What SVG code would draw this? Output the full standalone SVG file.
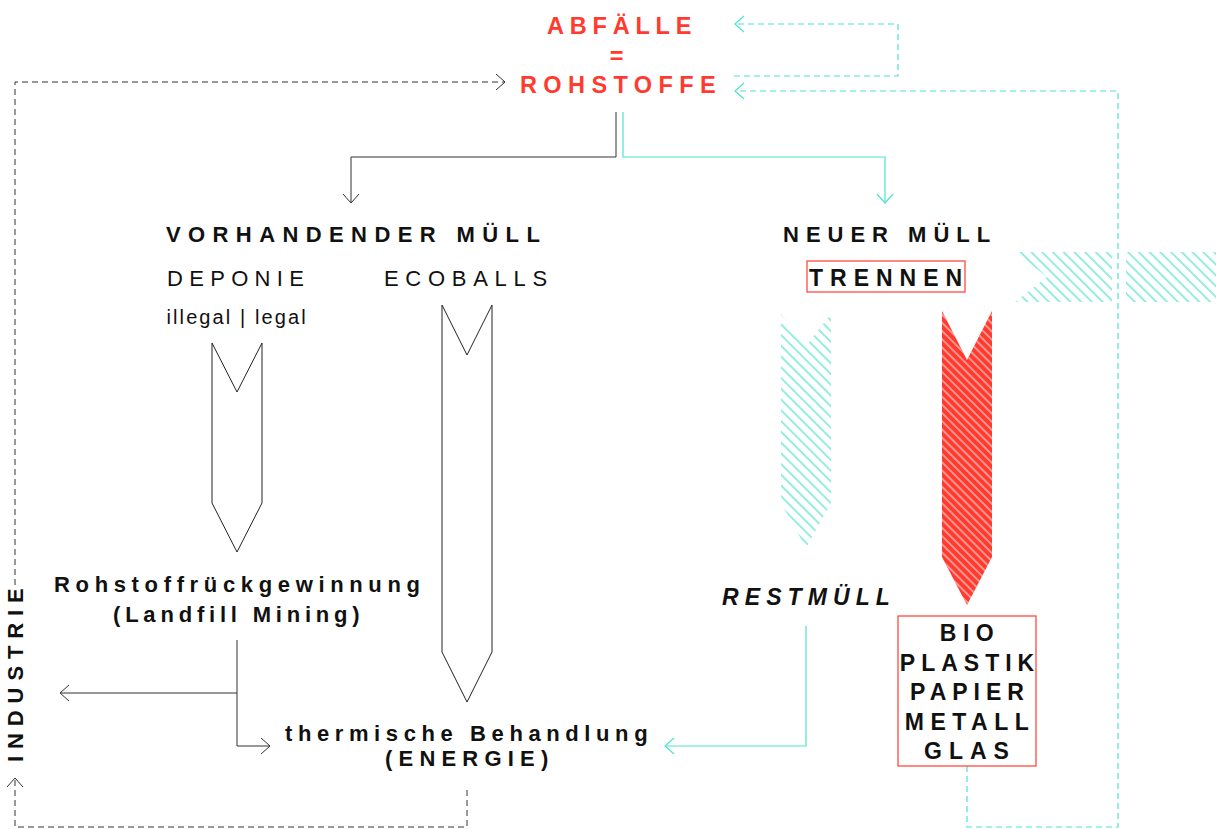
<svg xmlns="http://www.w3.org/2000/svg" width="1216" height="829" viewBox="0 0 1216 829">
<style>
text{font-family:"Liberation Sans",Arial,Helvetica,sans-serif;}
.b{font-weight:bold;font-size:22px;fill:#111;}
.r{font-size:22px;fill:#111;}
.red{fill:#ff3b30;font-weight:bold;font-size:23.5px;}
.ln{fill:none;stroke:#333;stroke-width:1;}
.lc{fill:none;stroke:#4fe3cc;stroke-width:1.2;}
.dash{stroke-dasharray:6 4;}
.box{fill:none;stroke:#ff4a3d;stroke-width:1.3;}
.out{fill:#fff;stroke:#222;stroke-width:1;}
.hc{fill:url(#hatchC);stroke:none;}
</style>
<defs>
<marker id="ak" markerUnits="userSpaceOnUse" markerWidth="20" markerHeight="20" viewBox="-10 -10 20 20" refX="0" refY="0" orient="auto" overflow="visible"><path d="M-9,-8 L0,0 L-9,8" fill="none" stroke="#333" stroke-width="1"/></marker>
<marker id="ac" markerUnits="userSpaceOnUse" markerWidth="20" markerHeight="20" viewBox="-10 -10 20 20" refX="0" refY="0" orient="auto" overflow="visible"><path d="M-9,-8 L0,0 L-9,8" fill="none" stroke="#4fe3cc" stroke-width="1.2"/></marker>
<pattern id="hatchC" patternUnits="userSpaceOnUse" width="7.6" height="7.6" patternTransform="rotate(-45)"><line x1="3.8" y1="0" x2="3.8" y2="7.6" stroke="#3fe0c8" stroke-width="1.1"/></pattern>
<pattern id="hatchW" patternUnits="userSpaceOnUse" width="5.8" height="5.8" patternTransform="rotate(-45)"><line x1="2.9" y1="0" x2="2.9" y2="5.8" stroke="#fff" stroke-width="0.9"/></pattern>
</defs>

<g id="connectors">
  <path class="ln" d="M616,112 V157 H351 V203" marker-end="url(#ak)"/>
  <path class="lc" d="M623,112 V157 H885 V203" marker-end="url(#ac)"/>
  <path class="ln" d="M237,640 V746 H270" marker-end="url(#ak)"/>
  <path class="ln" d="M237,693 H60" marker-end="url(#ak)"/>
  <path class="lc" d="M806,626 V746 H665" marker-end="url(#ac)"/>
  <path class="ln dash" d="M15,585 V82 H505" marker-end="url(#ak)"/>
  <path class="ln dash" d="M467,790 V827 H15 V778" marker-end="url(#ak)"/>
  <path class="lc dash" d="M734,76 H898 V24 H735" marker-end="url(#ac)"/>
  <path class="lc dash" d="M967,766 V827 H1118 V91 H735" marker-end="url(#ac)"/>
</g>

<g id="title">
  <text class="red" x="547" y="34" letter-spacing="5.8">ABFÄLLE</text>
  <text class="red" x="616.5" y="63.5" text-anchor="middle">=</text>
  <text class="red" x="520" y="92.5" letter-spacing="6.4">ROHSTOFFE</text>
</g>

<g id="vorhandener-muell">
  <text class="b" x="166" y="241.5" letter-spacing="7.4">VORHANDENDER MÜLL</text>
</g>

<g id="deponie">
  <text class="r" x="167" y="286" letter-spacing="6.3">DEPONIE</text>
  <text class="r" x="166.5" y="324" font-size="20" style="font-size:20px" letter-spacing="2.1">illegal | legal</text>
  <polygon class="out" points="212,343 237,392 262,343 262,503 237,552 212,503"/>
</g>

<g id="ecoballs">
  <text class="r" x="384" y="286" letter-spacing="6.7">ECOBALLS</text>
  <polygon class="out" points="442,305 467,355 492,305 492,652 467,702 442,652"/>
</g>

<g id="rohstoffrueckgewinnung">
  <text class="b" x="54" y="591.5" letter-spacing="5.65">Rohstoffrückgewinnung</text>
  <text class="b" x="113" y="621.5" letter-spacing="4.8">(Landfill Mining)</text>
</g>

<g id="thermische-behandlung">
  <text class="b" x="285" y="740.5" letter-spacing="5.6">thermische Behandlung</text>
  <text class="b" x="385" y="766" letter-spacing="6.2">(ENERGIE)</text>
</g>

<g id="industrie">
  <text class="b" transform="translate(23.3,762) rotate(-90)" x="0" y="0" letter-spacing="6.9">INDUSTRIE</text>
</g>

<g id="neuer-muell">
  <text class="b" x="783" y="241.5" letter-spacing="7">NEUER MÜLL</text>
</g>

<g id="trennen">
  <rect class="box" x="807" y="261" width="158" height="31"/>
  <text class="b" x="809" y="286" style="font-size:23px" letter-spacing="7">TRENNEN</text>
</g>

<g id="hatch-band">
  <polygon class="hc" points="1015,252 1112,252 1112,302 1015,302 1047,277"/>
  <polygon class="hc" points="1126,252 1216,252 1216,302 1126,302"/>
</g>

<g id="restmuell-arrow">
  <polygon class="hc" points="781,314 806,346 831,314 831,503 806,548 781,503"/>
</g>

<g id="restmuell">
  <text class="b" x="722" y="605" style="font-size:23px;font-style:italic" letter-spacing="6.1">RESTMÜLL</text>
</g>

<g id="wertstoff-arrow">
  <polygon points="942,311 967,360 992,311 992,557 967,605 942,557" fill="#ff3b30"/>
  <polygon points="942,311 967,360 992,311 992,557 967,605 942,557" fill="url(#hatchW)"/>
</g>

<g id="wertstoffe">
  <rect class="box" x="898" y="616" width="138" height="150" fill="#fff"/>
  <g style="font-size:23px" text-anchor="middle">
    <text class="b" x="970" y="640.5" style="font-size:23px" letter-spacing="6.5">BIO</text>
    <text class="b" x="970" y="670.5" style="font-size:23px" letter-spacing="6">PLASTIK</text>
    <text class="b" x="970" y="700" style="font-size:23px" letter-spacing="6">PAPIER</text>
    <text class="b" x="970" y="729.5" style="font-size:23px" letter-spacing="6.5">METALL</text>
    <text class="b" x="970" y="759" style="font-size:23px" letter-spacing="7">GLAS</text>
  </g>
</g>
</svg>
